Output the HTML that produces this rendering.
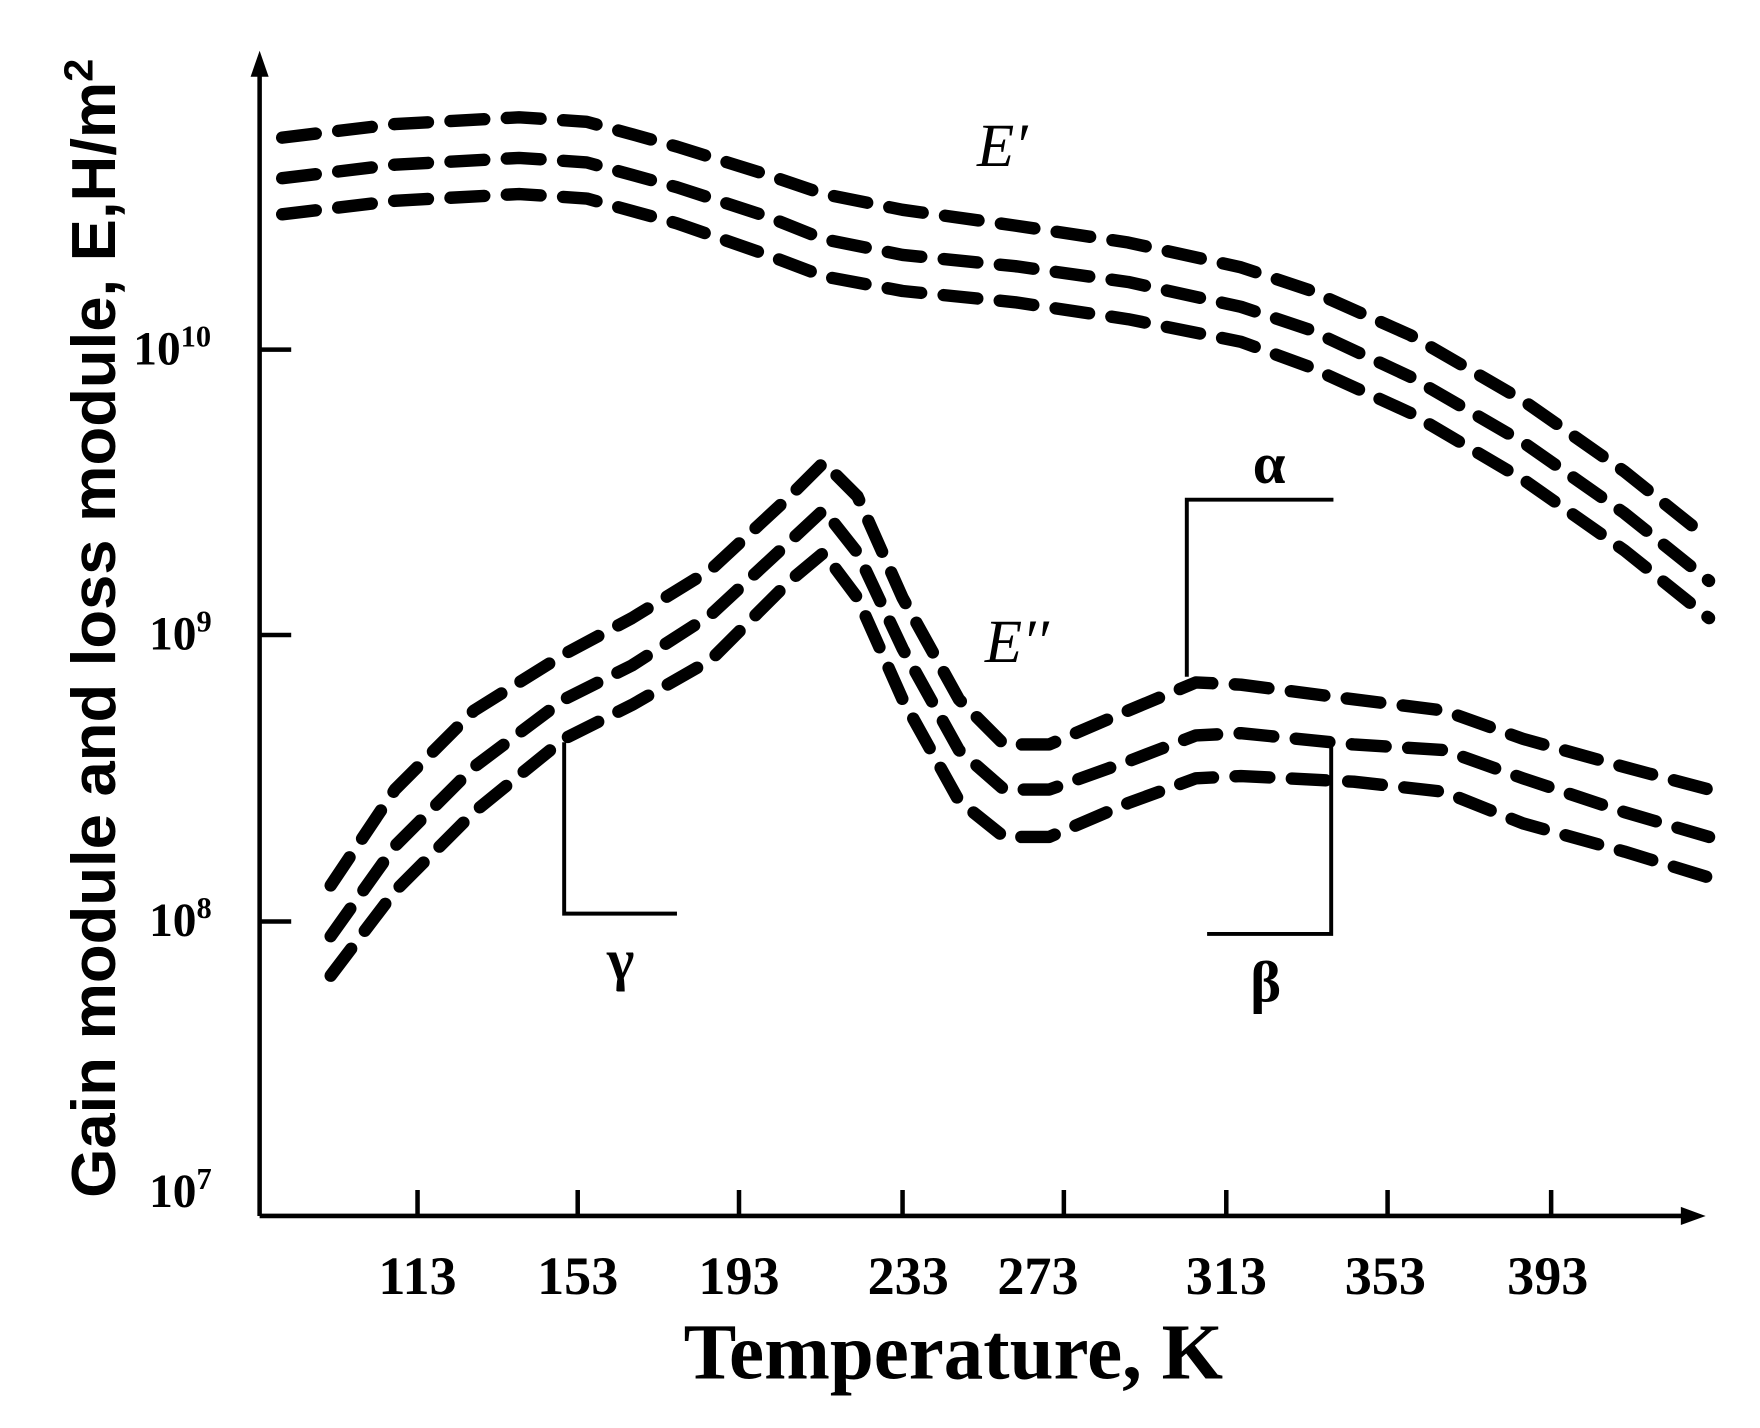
<!DOCTYPE html>
<html><head><meta charset="utf-8"><style>html,body{margin:0;padding:0;background:#fff;}svg{display:block}</style></head>
<body>
<svg width="1760" height="1428" viewBox="0 0 1560 1266" xmlns="http://www.w3.org/2000/svg">
<rect width="1560" height="1266" fill="#fff"/>
<g stroke="#000" stroke-width="4" fill="none">
<line x1="230" y1="1078" x2="230" y2="55"/>
<line x1="230" y1="1078" x2="1500" y2="1078"/>
<line x1="230" y1="310" x2="258" y2="310"/>
<line x1="230" y1="563" x2="258" y2="563"/>
<line x1="230" y1="817" x2="258" y2="817"/>
<line x1="370" y1="1078" x2="370" y2="1055"/>
<line x1="512" y1="1078" x2="512" y2="1055"/>
<line x1="655" y1="1078" x2="655" y2="1055"/>
<line x1="800" y1="1078" x2="800" y2="1055"/>
<line x1="943" y1="1078" x2="943" y2="1055"/>
<line x1="1087" y1="1078" x2="1087" y2="1055"/>
<line x1="1230" y1="1078" x2="1230" y2="1055"/>
<line x1="1375" y1="1078" x2="1375" y2="1055"/>
<polyline points="500,658 500,810 600,810" stroke-width="3.5"/>
<polyline points="1052,600 1052,443 1182,443" stroke-width="3.5"/>
<polyline points="1180,660 1180,828 1070,828" stroke-width="3.5"/>
</g>
<polygon points="230,45 222,68 238,68" fill="#000"/>
<polygon points="1512,1078 1490,1070 1490,1086" fill="#000"/>
<g stroke="#000" stroke-width="11" fill="none" stroke-dasharray="30 20" stroke-linecap="round" stroke-linejoin="round">
<polyline points="250,122 350,110 460,104 520,108 600,130 680,155 730,172 800,186 900,200 1000,215 1100,237 1160,257 1250,297 1350,355 1440,418 1515,478"/>
<polyline points="250,158 350,146 460,140 520,144 600,166 680,192 730,212 800,226 900,236 1000,250 1100,272 1160,292 1250,334 1350,392 1440,455 1515,515"/>
<polyline points="250,190 350,178 460,172 520,176 600,198 680,226 730,245 800,258 900,268 1000,283 1100,303 1160,325 1250,366 1350,425 1440,488 1515,548"/>
<polyline points="293,785 350,700 420,630 500,580 560,548 630,505 700,440 730,410 760,440 800,530 850,620 890,660 930,660 1000,630 1060,605 1100,607 1200,620 1280,630 1350,655 1440,680 1515,700"/>
<polyline points="293,830 350,750 420,680 500,620 560,590 630,545 700,480 730,452 760,490 800,575 850,665 890,700 930,700 1000,675 1060,652 1100,650 1200,660 1280,665 1350,690 1440,720 1515,742"/>
<polyline points="293,865 350,790 420,720 500,655 560,625 630,585 700,515 730,490 760,530 800,620 850,710 890,742 930,742 1000,712 1060,690 1100,688 1200,693 1280,702 1350,730 1440,755 1515,778"/>
</g>
<g font-family="Liberation Serif, serif" font-weight="bold" fill="#000">
<text x="118" y="323" font-size="42">10<tspan dy="-16" font-size="27">10</tspan></text>
<text x="132" y="576" font-size="42">10<tspan dy="-16" font-size="27">9</tspan></text>
<text x="132" y="830" font-size="42">10<tspan dy="-16" font-size="27">8</tspan></text>
<text x="132" y="1070" font-size="42">10<tspan dy="-16" font-size="27">7</tspan></text>
<g font-size="48" text-anchor="middle">
<text x="370" y="1147">113</text><text x="512" y="1147">153</text><text x="655" y="1147">193</text>
<text x="805" y="1147">233</text><text x="920" y="1147">273</text><text x="1087" y="1147">313</text>
<text x="1228" y="1147">353</text><text x="1372" y="1147">393</text>
</g>
<text x="845" y="1222" font-size="70" text-anchor="middle">Temperature, K</text>
<text x="550" y="868" font-size="52" text-anchor="middle">γ</text>
<text x="1125" y="428" font-size="52" text-anchor="middle">α</text>
<text x="1122" y="888" font-size="52" text-anchor="middle">β</text>
</g>
<g font-family="Liberation Serif, serif" font-style="italic" font-size="54" fill="#000">
<text x="866" y="147">E′</text>
<text x="873" y="587">E′′</text>
</g>
<text transform="translate(102,557) rotate(-90)" text-anchor="middle" font-family="Liberation Sans, sans-serif" font-weight="bold" font-size="55" fill="#000" textLength="1010" lengthAdjust="spacingAndGlyphs">Gain module and loss module, E,H/m<tspan dy="-20" font-size="36">2</tspan></text>
</svg>
</body></html>
